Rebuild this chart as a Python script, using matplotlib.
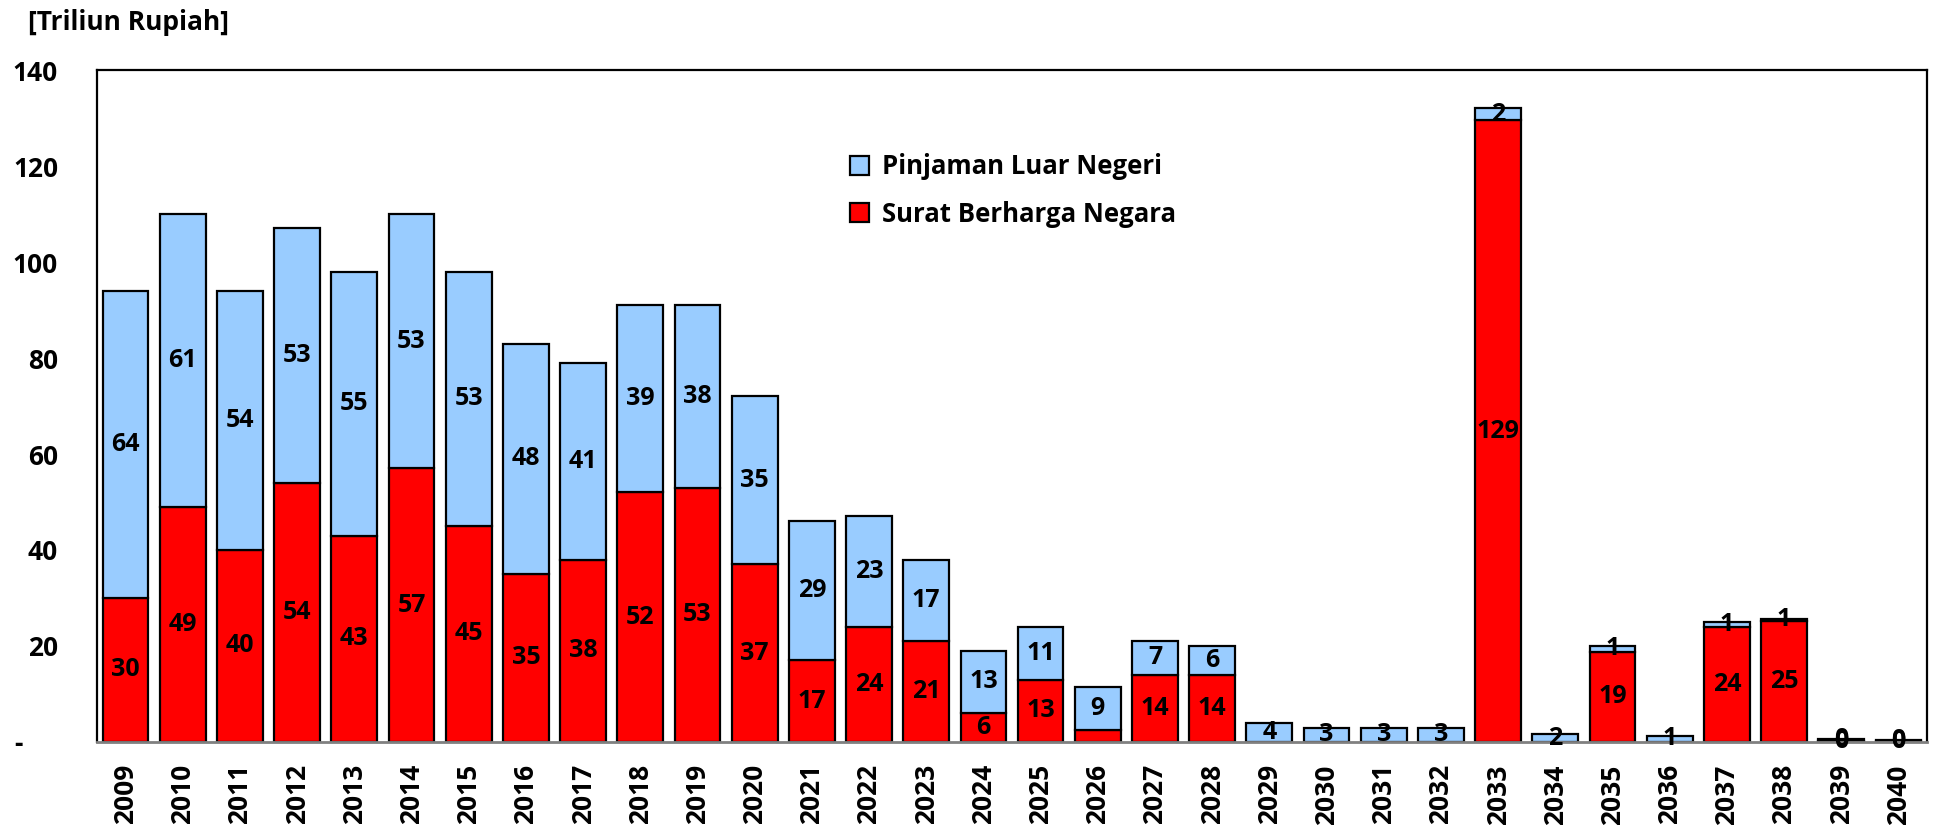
import numpy as np
import matplotlib
matplotlib.use("Agg")
import matplotlib.pyplot as plt

plt.rcParams["font.family"] = ["Open Sans", "DejaVu Sans"]
plt.rcParams["font.weight"] = "bold"

years = [str(y) for y in range(2009, 2041)]
# Surat Berharga Negara (red, bottom)
sbn = [30, 49, 40, 54, 43, 57, 45, 35, 38, 52, 53, 37, 17, 24, 21, 6, 13, 2.5, 14, 14,
       0, 0, 0, 0, 129.5, 0, 18.8, 0, 24, 25.2, 0.3, 0.2]
# Pinjaman Luar Negeri (blue, top)
pln = [64, 61, 54, 53, 55, 53, 53, 48, 41, 39, 38, 35, 29, 23, 17, 13, 11, 9, 7, 6,
       4, 3, 3, 3, 2.5, 1.6, 1.2, 1.3, 0.9, 0.5, 0.3, 0.2]
sbn_lbl = ["30", "49", "40", "54", "43", "57", "45", "35", "38", "52", "53", "37", "17", "24", "21", "6",
           "13", "", "14", "14", "", "", "", "", "129", "", "19", "", "24", "25", "0", "0"]
pln_lbl = ["64", "61", "54", "53", "55", "53", "53", "48", "41", "39", "38", "35", "29", "23", "17", "13",
           "11", "9", "7", "6", "4", "3", "3", "3", "2", "2", "1", "1", "1", "1", "0", "0"]

fig = plt.figure(figsize=(19.36, 8.3), dpi=100)
ax = fig.add_axes([97 / 1936, 1 - 742 / 830, 1830 / 1936, 672 / 830])
x = np.arange(len(years))
b1 = ax.bar(x, sbn, 0.8, color="#FF0000", edgecolor="black", lw=1.6, label="Surat Berharga Negara")
b2 = ax.bar(x, pln, 0.8, bottom=sbn, color="#99CCFF", edgecolor="black", lw=1.6, label="Pinjaman Luar Negeri")
for i in x:
    if sbn_lbl[i]:
        ax.text(i, sbn[i] / 2, sbn_lbl[i], ha="center", va="center", fontsize=18, fontweight="bold")
    if pln_lbl[i]:
        ax.text(i, sbn[i] + pln[i] / 2, pln_lbl[i], ha="center", va="center", fontsize=18, fontweight="bold")

ax.set_xlim(-0.5, len(years) - 0.5)
ax.set_ylim(0, 140)
ax.set_yticks(range(0, 141, 20))
ax.set_yticklabels(["-     "] + [str(v) for v in range(20, 141, 20)], fontsize=19, fontweight="bold")
ax.set_xticks(x)
ax.set_xticklabels(years, rotation=90, fontsize=19, fontweight="bold")
ax.tick_params(axis="y", length=0, pad=28)
ax.tick_params(axis="x", length=0, pad=16)
for s in ["left", "top", "right"]:
    ax.spines[s].set_linewidth(1.6)
ax.spines["bottom"].set_color("#808080")
ax.spines["bottom"].set_linewidth(2)

ax.legend(handles=[b2, b1], loc="upper left", bbox_to_anchor=(827 / 1936, 1 - 130 / 830),
          bbox_transform=fig.transFigure, frameon=False, handlelength=0.75,
          handleheight=0.75, handletextpad=0.5, labelspacing=0.8, prop={"weight": "bold", "size": 18.5})
fig.text(28 / 1936, 1 - 22 / 830, "[Triliun Rupiah]", fontsize=19, fontweight="bold", va="center")

fig.savefig("out.png", dpi=100)
